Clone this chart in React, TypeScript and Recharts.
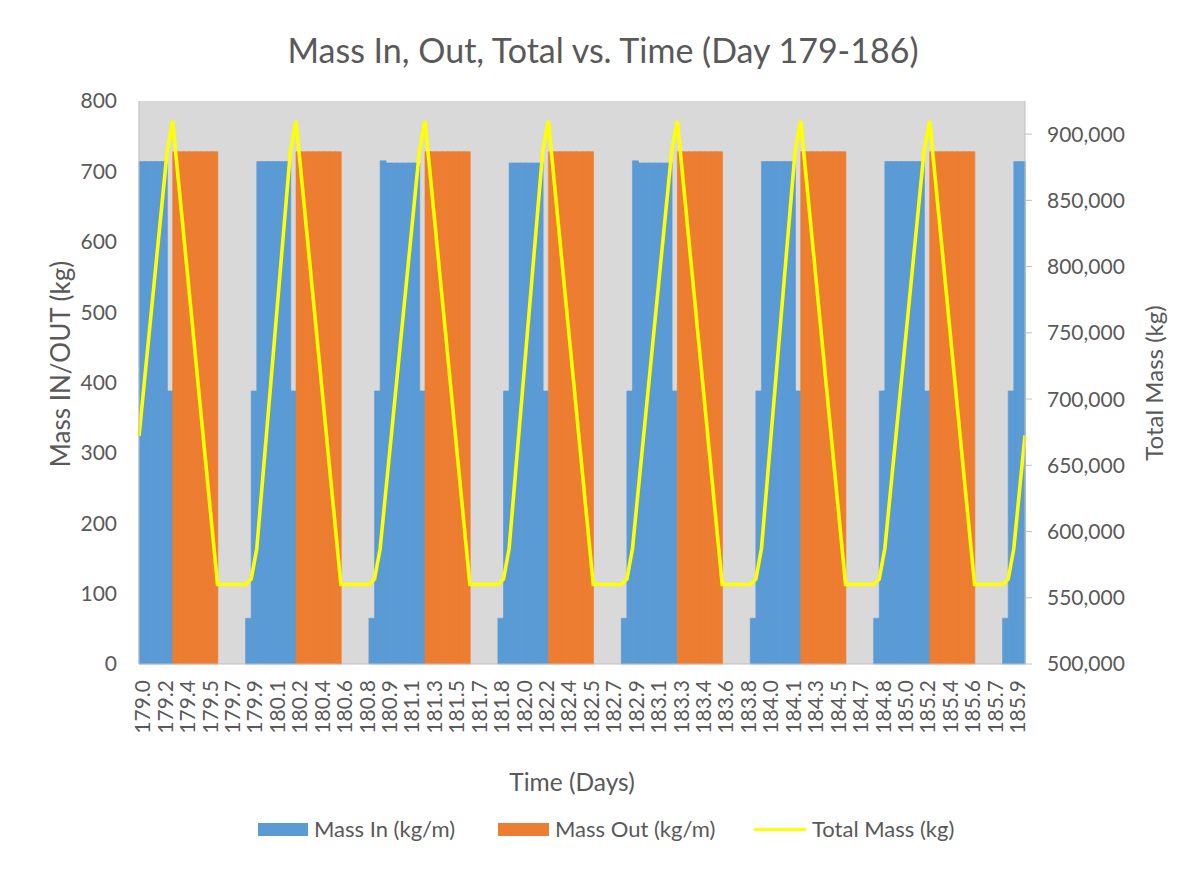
import React from 'react';
import { ComposedChart, Bar, Line, XAxis, YAxis, CartesianGrid, Label } from 'recharts';

const FONT = 'Lato, "Open Sans", sans-serif';
const TEXT = '#595959';
const BLUE = '#5B9BD5';
const ORANGE = '#ED7D31';
const YELLOW = '#FFFF00';
const PLOT_BG = '#D9D9D9';
const AXIS = '#BFBFBF';

// Tick labels of the time axis (one every 4th category)
const TIME_LABELS = [
  '179.0', '179.2', '179.4', '179.5', '179.7', '179.9', '180.1', '180.2', '180.4', '180.6',
  '180.8', '180.9', '181.1', '181.3', '181.5', '181.7', '181.8', '182.0', '182.2', '182.4',
  '182.5', '182.7', '182.9', '183.1', '183.3', '183.4', '183.6', '183.8', '184.0', '184.1',
  '184.3', '184.5', '184.7', '184.8', '185.0', '185.2', '185.4', '185.6', '185.7', '185.9',
];

// Mass In (kg/m) per time step (158 steps)
const MASS_IN = [
  714, 714, 714, 714, 714, 388, 0, 0, 0, 0, 0, 0, 0, 0, 0, 0, 0, 0, 0,
  65, 388, 714, 714, 714, 714, 714, 714, 388, 0, 0, 0, 0, 0, 0, 0, 0, 0, 0, 0, 0, 0,
  65, 388, 715, 712, 712, 712, 712, 712, 712, 388, 0, 0, 0, 0, 0, 0, 0, 0, 0, 0, 0, 0, 0,
  65, 388, 712, 712, 712, 712, 712, 712, 388, 0, 0, 0, 0, 0, 0, 0, 0, 0, 0, 0, 0, 0,
  65, 388, 715, 712, 712, 712, 712, 712, 712, 388, 0, 0, 0, 0, 0, 0, 0, 0, 0, 0, 0, 0, 0,
  65, 388, 714, 714, 714, 714, 714, 714, 388, 0, 0, 0, 0, 0, 0, 0, 0, 0, 0, 0, 0, 0,
  65, 388, 714, 714, 714, 714, 714, 714, 714, 388, 0, 0, 0, 0, 0, 0, 0, 0, 0, 0, 0, 0, 0,
  65, 388, 714, 714,
];

// Mass Out (kg/m) per time step (158 steps)
const MASS_OUT = [
  0, 0, 0, 0, 0, 0, 728, 728, 728, 728, 728, 728, 728, 728, 0, 0, 0, 0, 0,
  0, 0, 0, 0, 0, 0, 0, 0, 0, 728, 728, 728, 728, 728, 728, 728, 728, 0, 0, 0, 0, 0,
  0, 0, 0, 0, 0, 0, 0, 0, 0, 0, 728, 728, 728, 728, 728, 728, 728, 728, 0, 0, 0, 0, 0,
  0, 0, 0, 0, 0, 0, 0, 0, 0, 728, 728, 728, 728, 728, 728, 728, 728, 0, 0, 0, 0, 0,
  0, 0, 0, 0, 0, 0, 0, 0, 0, 0, 728, 728, 728, 728, 728, 728, 728, 728, 0, 0, 0, 0, 0,
  0, 0, 0, 0, 0, 0, 0, 0, 0, 728, 728, 728, 728, 728, 728, 728, 728, 0, 0, 0, 0, 0,
  0, 0, 0, 0, 0, 0, 0, 0, 0, 0, 728, 728, 728, 728, 728, 728, 728, 728, 0, 0, 0, 0, 0,
  0, 0, 0, 0,
];

// Total Mass (kg) at each step boundary (159 points)
const TOTAL_MASS = [
  672000, 714800, 757600, 800300, 843100, 885900, 910000, 866300, 822500, 778800, 735000,
  691300, 647500, 603800, 560000, 560000, 560000, 560000, 560000,
  560000, 564000, 587000, 637000, 687000, 737000, 787000, 837000, 887000, 910000, 866300,
  822500, 778800, 735000, 691300, 647500, 603800, 560000, 560000, 560000, 560000, 560000,
  560000, 564000, 587000, 629900, 672700, 715600, 758400, 801300, 844100, 887000, 910000,
  866300, 822500, 778800, 735000, 691300, 647500, 603800, 560000, 560000, 560000, 560000, 560000,
  560000, 564000, 587000, 637000, 687000, 737000, 787000, 837000, 887000, 910000, 866300,
  822500, 778800, 735000, 691300, 647500, 603800, 560000, 560000, 560000, 560000, 560000,
  560000, 564000, 587000, 629900, 672700, 715600, 758400, 801300, 844100, 887000, 910000,
  866300, 822500, 778800, 735000, 691300, 647500, 603800, 560000, 560000, 560000, 560000, 560000,
  560000, 564000, 587000, 637000, 687000, 737000, 787000, 837000, 887000, 910000, 866300,
  822500, 778800, 735000, 691300, 647500, 603800, 560000, 560000, 560000, 560000, 560000,
  560000, 564000, 587000, 629900, 672700, 715600, 758400, 801300, 844100, 887000, 910000,
  866300, 822500, 778800, 735000, 691300, 647500, 603800, 560000, 560000, 560000, 560000, 560000,
  560000, 564000, 587000, 629900, 672700,
];

const LEFT_TICKS = [0, 100, 200, 300, 400, 500, 600, 700, 800];
const RIGHT_TICKS = [500000, 550000, 600000, 650000, 700000, 750000, 800000, 850000, 900000];

const barData = MASS_IN.map((v, i) => ({ i, massIn: v, massOut: MASS_OUT[i] }));
const lineData = TOTAL_MASS.map((v, i) => ({ i, total: v }));

const XTick = (props: any) => {
  const { x, y, payload } = props;
  const label = TIME_LABELS[Math.round(payload.value / 4)];
  return (
    <text
      x={x}
      y={y}
      transform={`rotate(-90, ${x}, ${y})`}
      textAnchor="end"
      dominantBaseline="central"
      fill={TEXT}
      fontSize={21}
      fontFamily={FONT}
    >
      {label}
    </text>
  );
};

const fmt = (v: number) => v.toLocaleString('en-US');

const tickStyle = { fill: TEXT, fontSize: 21, fontFamily: FONT };

export default function App() {
  return (
    <div
      style={{
        position: 'relative',
        width: 1197,
        height: 869,
        margin: '-8px 0 0 -8px',
        background: '#fff',
        fontFamily: FONT,
        color: TEXT,
        overflow: 'hidden',
      }}
    >
      <div
        style={{
          position: 'absolute',
          top: 28,
          left: 0,
          width: 1206,
          textAlign: 'center',
          fontSize: 34,
          lineHeight: '44px',
          color: TEXT,
        }}
      >
        Mass In, Out, Total vs. Time (Day 179-186)
      </div>

      <ComposedChart
        width={1197}
        height={869}
        data={barData}
        margin={{ top: 101, right: 0, bottom: 0, left: 0 }}
        barCategoryGap={0}
        barGap={0}
      >
        <CartesianGrid xAxisId="cat" yAxisId="left" horizontal={false} vertical={false} fill={PLOT_BG} stroke="none" />
        <XAxis
          xAxisId="cat"
          dataKey="i"
          type="category"
          interval={3}
          height={205}
          tick={<XTick />}
          tickLine={false}
          tickSize={0}
          tickMargin={16}
          axisLine={{ stroke: AXIS }}
        >
          <Label
            content={() => (
              <text x={572} y={781} textAnchor="middle" dominantBaseline="central" fill={TEXT} fontSize={24.5} fontFamily={FONT}>
                Time (Days)
              </text>
            )}
          />
        </XAxis>
        <XAxis xAxisId="line" dataKey="i" type="number" domain={[0, 158]} hide />
        <YAxis
          yAxisId="left"
          orientation="left"
          width={139}
          domain={[0, 800]}
          ticks={LEFT_TICKS}
          interval={0}
          tick={tickStyle}
          tickLine={false}
          tickSize={0}
          tickMargin={22}
          axisLine={{ stroke: AXIS }}
        >
          <Label
            content={() => (
              <text
                x={60}
                y={364}
                transform="rotate(-90, 60, 364)"
                textAnchor="middle"
                dominantBaseline="central"
                fill={TEXT}
                fontSize={26}
                fontFamily={FONT}
              >
                Mass IN/OUT (kg)
              </text>
            )}
          />
        </YAxis>
        <YAxis
          yAxisId="right"
          orientation="right"
          width={172}
          domain={[500000, 925000]}
          ticks={RIGHT_TICKS}
          interval={0}
          tickFormatter={fmt}
          tick={tickStyle}
          tickLine={{ stroke: AXIS }}
          tickSize={7}
          tickMargin={15}
          axisLine={{ stroke: AXIS }}
        >
          <Label
            content={() => (
              <text
                x={1153}
                y={383}
                transform="rotate(-90, 1153, 383)"
                textAnchor="middle"
                dominantBaseline="central"
                fill={TEXT}
                fontSize={24}
                fontFamily={FONT}
              >
                Total Mass (kg)
              </text>
            )}
          />
        </YAxis>
        <Bar
          xAxisId="cat"
          yAxisId="left"
          dataKey="massIn"
          name="Mass In (kg/m)"
          stackId="m"
          fill={BLUE}
          stroke={BLUE}
          strokeWidth={0.6}
          isAnimationActive={false}
        />
        <Bar
          xAxisId="cat"
          yAxisId="left"
          dataKey="massOut"
          name="Mass Out (kg/m)"
          stackId="m"
          fill={ORANGE}
          stroke={ORANGE}
          strokeWidth={0.6}
          isAnimationActive={false}
        />
        <Line
          xAxisId="line"
          yAxisId="right"
          data={lineData}
          dataKey="total"
          name="Total Mass (kg)"
          type="linear"
          stroke={YELLOW}
          strokeWidth={3.6}
          dot={false}
          activeDot={false}
          isAnimationActive={false}
        />
      </ComposedChart>

      <div style={{ position: 'absolute', left: 258, top: 823, width: 50, height: 13, background: BLUE }} />
      <div style={{ position: 'absolute', left: 314, top: 814, fontSize: 22, lineHeight: '30px', whiteSpace: 'nowrap' }}>
        Mass In (kg/m)
      </div>
      <div style={{ position: 'absolute', left: 498, top: 823, width: 51, height: 13, background: ORANGE }} />
      <div style={{ position: 'absolute', left: 555, top: 814, fontSize: 22, lineHeight: '30px', whiteSpace: 'nowrap' }}>
        Mass Out (kg/m)
      </div>
      <div style={{ position: 'absolute', left: 754, top: 828, width: 52, height: 3, background: YELLOW }} />
      <div style={{ position: 'absolute', left: 812, top: 814, fontSize: 22, lineHeight: '30px', whiteSpace: 'nowrap' }}>
        Total Mass (kg)
      </div>
    </div>
  );
}
